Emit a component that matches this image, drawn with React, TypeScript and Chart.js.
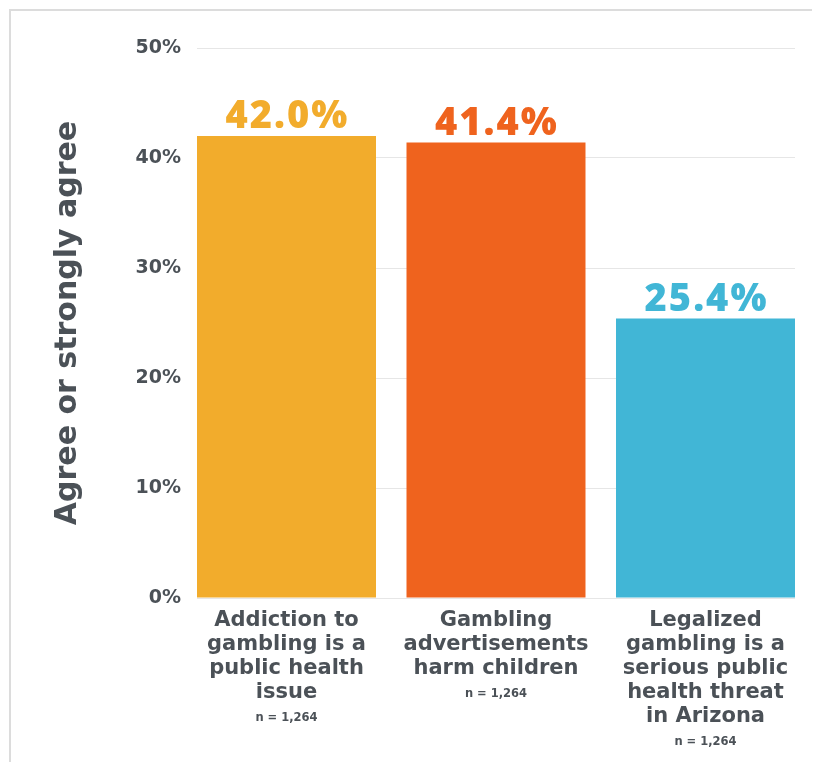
import React, { useEffect, useRef } from "react";
import { Chart, registerables } from "chart.js";

Chart.register(...registerables);

const categories: string[][] = [
  ["Addiction to", "gambling is a", "public health", "issue"],
  ["Gambling", "advertisements", "harm children"],
  ["Legalized", "gambling is a", "serious public", "health threat", "in Arizona"],
];
const sampleNotes = ["n = 1,264", "n = 1,264", "n = 1,264"];
const values = [42.0, 41.4, 25.4];
const valueLabels = ["42.0%", "41.4%", "25.4%"];
const barColors = ["#F2AC2C", "#EF631E", "#41B6D6"];
const yMin = 0;
const yMax = 50;
const yStep = 10;
const yTitle = "Agree or strongly agree";

const TEXT = "#4B5157";
const X_LINE_H = 24;
const X_PAD = 3;
// bar fills 179 of each 209.5px slot; bars flush with plot edges
const BAR_FRAC = 0.8544;

export default function App() {
  const ref = useRef<HTMLCanvasElement | null>(null);

  useEffect(() => {
    const canvas = ref.current;
    if (!canvas) return;

    const valueLabelPlugin = {
      id: "valueLabels",
      afterDatasetsDraw(chart: any) {
        const ctx = chart.ctx;
        const meta = chart.getDatasetMeta(0);
        ctx.save();
        ctx.font = "800 38px 'Open Sans'";
        try { (ctx as any).letterSpacing = "2px"; } catch (e) {}
        ctx.textAlign = "center";
        ctx.textBaseline = "alphabetic";
        meta.data.forEach((el: any, i: number) => {
          ctx.fillStyle = barColors[i];
          ctx.fillText(valueLabels[i], el.x + 1, el.y - 8);
        });
        ctx.restore();
      },
    };

    const notePlugin = {
      id: "sampleNotes",
      afterDraw(chart: any) {
        const ctx = chart.ctx;
        const xs = chart.scales.x;
        ctx.save();
        ctx.font = "bold 11.5px 'DejaVu Sans'";
        ctx.fillStyle = TEXT;
        ctx.textAlign = "center";
        ctx.textBaseline = "middle";
        sampleNotes.forEach((t, i) => {
          const x = xs.getPixelForValue(i);
          const y = xs.top + X_PAD + categories[i].length * X_LINE_H + 21;
          ctx.fillText(t, x, y);
        });
        ctx.restore();
      },
    };

    const chart = new Chart(canvas, {
      type: "bar",
      data: {
        datasets: [
          {
            data: values.map((v, i) => ({ x: i, y: v })),
            backgroundColor: barColors,
            borderWidth: 0,
            categoryPercentage: 1,
            barPercentage: BAR_FRAC,
          },
        ],
      },
      options: {
        responsive: false,
        animation: false,
        devicePixelRatio: 1,
        layout: { padding: { top: 40, right: 17, left: 0, bottom: 0 } },
        plugins: {
          legend: { display: false },
          tooltip: { enabled: false },
        },
        scales: {
          x: {
            type: "linear",
            offset: false,
            min: -BAR_FRAC / 2,
            max: categories.length - 1 + BAR_FRAC / 2,
            grid: { display: false },
            border: { display: false },
            afterBuildTicks(scale: any) {
              scale.ticks = categories.map((_, i) => ({ value: i }));
            },
            ticks: {
              color: TEXT,
              font: { family: "'DejaVu Sans'", weight: "bold", size: 21, lineHeight: X_LINE_H / 21 },
              padding: X_PAD,
              maxRotation: 0,
              autoSkip: false,
              callback: (v: any) => categories[Math.round(v)] || "",
            },
            afterFit(scale: any) {
              scale.height = 164;
            },
          },
          y: {
            min: yMin,
            max: yMax,
            grid: { color: "#e6e6e6", drawTicks: false, lineWidth: 1 },
            border: { display: false },
            ticks: {
              stepSize: yStep,
              color: TEXT,
              font: { family: "'DejaVu Sans'", weight: "bold", size: 19 },
              padding: 16,
              callback: (v: any) => v + "%",
            },
            title: {
              display: true,
              text: yTitle,
              color: TEXT,
              font: { family: "'DejaVu Sans'", weight: "bold", size: 30, lineHeight: 1.2 },
              padding: { top: 42, bottom: 0 },
            },
            afterFit(scale: any) {
              scale.width = 189;
            },
          },
        },
      },
      plugins: [valueLabelPlugin, notePlugin],
    } as any);

    return () => chart.destroy();
  }, []);

  return (
    <div style={{ position: "relative", width: 804, height: 754 }}>
      <canvas ref={ref} width={804} height={754} style={{ display: "block" }} />
      <div
        style={{
          position: "absolute",
          left: 1,
          top: 1,
          width: 803,
          height: 753,
          borderTop: "2px solid #dcdcdc",
          borderLeft: "2px solid #dcdcdc",
          boxSizing: "border-box",
          pointerEvents: "none",
        }}
      />
    </div>
  );
}
